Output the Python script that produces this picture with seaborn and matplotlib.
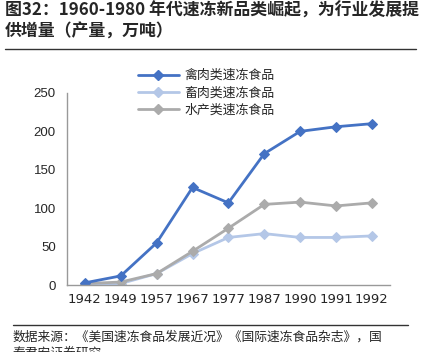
import matplotlib
matplotlib.use("Agg")
import matplotlib.pyplot as plt
from matplotlib.lines import Line2D
from matplotlib.ticker import FixedLocator
import seaborn as sns
import pandas as pd

# data
years = ["1942", "1949", "1957", "1967", "1977", "1987", "1990", "1991", "1992"]
poultry = [3, 12, 55, 127, 107, 171, 200, 206, 210]
livestock = [1, 2, 15, 41, 62, 67, 62, 62, 64]
aquatic = [2, 4, 15, 44, 74, 105, 108, 103, 107]
series_names = ["禽肉类速冻食品", "畜肉类速冻食品", "水产类速冻食品"]
colors = ["#4472C4", "#B4C7E7", "#ABABAB"]

sns.set_style("white")
plt.rcParams["font.family"] = ["Noto Sans CJK SC", "DejaVu Sans"]

df = pd.DataFrame({
    "year": years * 3,
    "value": poultry + livestock + aquatic,
    "series": [series_names[0]] * 9 + [series_names[1]] * 9 + [series_names[2]] * 9,
})
df["pos"] = list(range(9)) * 3

fig = plt.figure(figsize=(4.21, 3.52), dpi=100)
ax = fig.add_axes([0.159, 0.19, 0.767, 0.546])

# draw light ones first, then grey over light blue, dark blue on top
for name, c in [(series_names[1], colors[1]), (series_names[2], colors[2]),
                (series_names[0], colors[0])]:
    sub = df[df["series"] == name]
    sns.lineplot(data=sub, x="pos", y="value", color=c, marker="D",
                 markersize=5, markeredgecolor=c, linewidth=2, ax=ax,
                 legend=False)

ax.set_xlim(-0.5, 8.5)
ax.set_ylim(0, 250)
ax.set_yticks([0, 50, 100, 150, 200, 250])
ax.set_xticks(range(9))
ax.set_xticklabels(years, fontsize=9.5, family="DejaVu Sans")
ax.xaxis.set_minor_locator(FixedLocator([i + 0.5 for i in range(-1, 9)]))
ax.tick_params(axis="x", which="major", length=0, pad=6)
ax.tick_params(axis="x", which="minor", length=4, direction="in", color="#999999")
ax.tick_params(axis="y", length=4, direction="out", color="#999999", labelsize=9.5, pad=4)
for lbl in ax.get_yticklabels():
    lbl.set_family("Liberation Sans")
ax.set_xlabel("")
ax.set_ylabel("")
for s in ["top", "right"]:
    ax.spines[s].set_visible(False)
for s in ["left", "bottom"]:
    ax.spines[s].set_color("#999999")
    ax.spines[s].set_linewidth(1)

handles = [Line2D([], [], color=c, marker="D", markersize=5, linewidth=2)
           for c in colors]
fig.legend(handles, series_names, loc="upper left", bbox_to_anchor=(0.315, 0.818),
           frameon=False, fontsize=9.3, handlelength=3.2, labelspacing=0.32,
           handletextpad=0.4, borderaxespad=0)

fig.text(0.012, 0.995, "图32：1960-1980 年代速冻新品类崛起，为行业发展提\n供增量（产量，万吨）",
         fontsize=12.2, fontweight="bold", va="top", ha="left", linespacing=1.2)
fig.add_artist(Line2D([0.012, 0.988], [0.862, 0.862], color="#333333", linewidth=1))
fig.add_artist(Line2D([0.03, 0.97], [0.077, 0.077], color="#333333", linewidth=1))
fig.text(0.03, 0.062, "数据来源：《美国速冻食品发展近况》《国际速冻食品杂志》，国\n泰君安证券研究",
         fontsize=9.2, va="top", ha="left", linespacing=1.4)

fig.savefig("out.png", dpi=100)
